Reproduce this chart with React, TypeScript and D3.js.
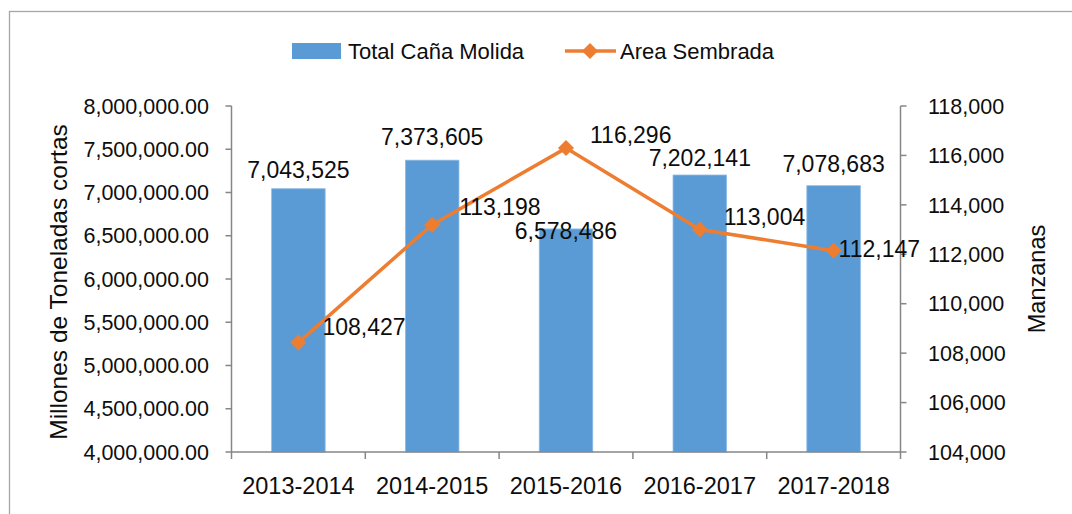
import React from "react";
import * as d3 from "d3";

const categories = ["2013-2014", "2014-2015", "2015-2016", "2016-2017", "2017-2018"];
const totalCana = [7043525, 7373605, 6578486, 7202141, 7078683];
const areaSembrada = [108427, 113198, 116296, 113004, 112147];
const leftTicks = [4000000, 4500000, 5000000, 5500000, 6000000, 6500000, 7000000, 7500000, 8000000];
const rightTicks = [104000, 106000, 108000, 110000, 112000, 114000, 116000, 118000];

// label placement tweaks (style, not data)
const barLabelDy = [-11, -15, 10, -9, -14];
const lineLabelDx = [24, 27, 24, 24, 5];
const lineLabelDy = [-16, -18, -13, -13, -2];

const W = 1072;
const H = 514;
const M = { left: 231.5, right: 900.5, top: 106, bottom: 452 };
const FONT = "'Liberation Sans', Arial, sans-serif";
const BLUE = "#5B9BD5";
const ORANGE = "#ED7D31";
const AXIS = "#868686";

export default function App() {
  const x = d3.scaleBand<string>().domain(categories).range([M.left, M.right]).paddingInner(0.6).paddingOuter(0.3);
  const band = d3.scaleBand<string>().domain(categories).range([M.left, M.right]);
  const yL = d3.scaleLinear().domain([4000000, 8000000]).range([M.bottom, M.top]);
  const yR = d3.scaleLinear().domain([104000, 118000]).range([M.bottom, M.top]);
  const fmtL = d3.format(",.2f");
  const fmtR = d3.format(",");
  const cx = (c: string) => (band(c) as number) + band.bandwidth() / 2;
  const line = d3
    .line<number>()
    .x((_, i) => cx(categories[i]))
    .y((d) => yR(d));
  const diamond = (px: number, py: number, r: number) =>
    `M${px},${py - r}L${px + r},${py}L${px},${py + r}L${px - r},${py}Z`;
  const boundaries = d3.range(categories.length + 1).map((i) => M.left + i * band.bandwidth());

  return (
    <svg width={W} height={H} style={{ position: "absolute", left: 0, top: 0, background: "#fff" }} fontFamily={FONT}>
      <rect x={9.5} y={11.5} width={1100} height={600} fill="#fff" stroke="#A6A6A6" strokeWidth={1.3} />

      {/* bars */}
      {categories.map((c, i) => (
        <rect
          key={c}
          x={x(c)}
          y={yL(totalCana[i])}
          width={x.bandwidth()}
          height={M.bottom - yL(totalCana[i])}
          fill={BLUE}
          stroke="#8DBBE6"
          strokeWidth={0.8}
        />
      ))}

      {/* axes */}
      <line x1={M.left} x2={M.left} y1={M.top} y2={M.bottom} stroke={AXIS} strokeWidth={1.5} />
      <line x1={M.right} x2={M.right} y1={M.top} y2={M.bottom} stroke={AXIS} strokeWidth={1.5} />
      <line x1={M.left} x2={M.right} y1={M.bottom} y2={M.bottom} stroke={AXIS} strokeWidth={1.5} />
      {leftTicks.map((t) => (
        <g key={t}>
          <line x1={M.left - 6} x2={M.left} y1={yL(t)} y2={yL(t)} stroke={AXIS} strokeWidth={1.5} />
          <text x={209} y={yL(t)} dy="0.36em" textAnchor="end" fontSize={21.5} fill="#0d0d0d">
            {fmtL(t)}
          </text>
        </g>
      ))}
      {rightTicks.map((t) => (
        <g key={t}>
          <line x1={M.right} x2={M.right + 6} y1={yR(t)} y2={yR(t)} stroke={AXIS} strokeWidth={1.5} />
          <text x={928} y={yR(t)} dy="0.36em" textAnchor="start" fontSize={21.5} fill="#0d0d0d">
            {fmtR(t)}
          </text>
        </g>
      ))}
      {boundaries.map((b, i) => (
        <line key={i} x1={b} x2={b} y1={M.bottom} y2={M.bottom + 7} stroke={AXIS} strokeWidth={1.5} />
      ))}
      {categories.map((c) => (
        <text key={c} x={cx(c)} y={494} textAnchor="middle" fontSize={23.5} fill="#0d0d0d">
          {c}
        </text>
      ))}

      {/* axis titles */}
      <text
        transform={`translate(67,${(M.top + M.bottom) / 2 + 3}) rotate(-90)`}
        textAnchor="middle"
        fontSize={24.5}
        fill="#0d0d0d"
      >
        Millones de Toneladas cortas
      </text>
      <text
        transform={`translate(1045,${(M.top + M.bottom) / 2}) rotate(-90)`}
        textAnchor="middle"
        fontSize={23.5}
        fill="#0d0d0d"
      >
        Manzanas
      </text>

      {/* line */}
      <path d={line(areaSembrada) as string} fill="none" stroke={ORANGE} strokeWidth={3.5} strokeLinejoin="round" />
      {areaSembrada.map((v, i) => (
        <path key={i} d={diamond(cx(categories[i]), yR(v), 8)} fill={ORANGE} />
      ))}

      {/* bar labels */}
      {categories.map((c, i) => (
        <text
          key={c}
          x={cx(c)}
          y={yL(totalCana[i]) + barLabelDy[i]}
          textAnchor="middle"
          fontSize={23}
          fill="#0d0d0d"
        >
          {fmtR(totalCana[i])}
        </text>
      ))}

      {/* line labels */}
      {areaSembrada.map((v, i) => (
        <text
          key={i}
          x={cx(categories[i]) + lineLabelDx[i]}
          y={yR(v) + lineLabelDy[i]}
          dy="0.36em"
          textAnchor="start"
          fontSize={23}
          fill="#0d0d0d"
        >
          {fmtR(v)}
        </text>
      ))}

      {/* legend */}
      <rect x={292} y={43} width={49} height={16} fill={BLUE} />
      <text x={348} y={59} fontSize={22} fill="#0d0d0d">
        Total Caña Molida
      </text>
      <line x1={565} x2={616} y1={51} y2={51} stroke={ORANGE} strokeWidth={3.5} />
      <path d={diamond(590, 51, 8)} fill={ORANGE} />
      <text x={620} y={59} fontSize={22} fill="#0d0d0d">
        Area Sembrada
      </text>
    </svg>
  );
}
